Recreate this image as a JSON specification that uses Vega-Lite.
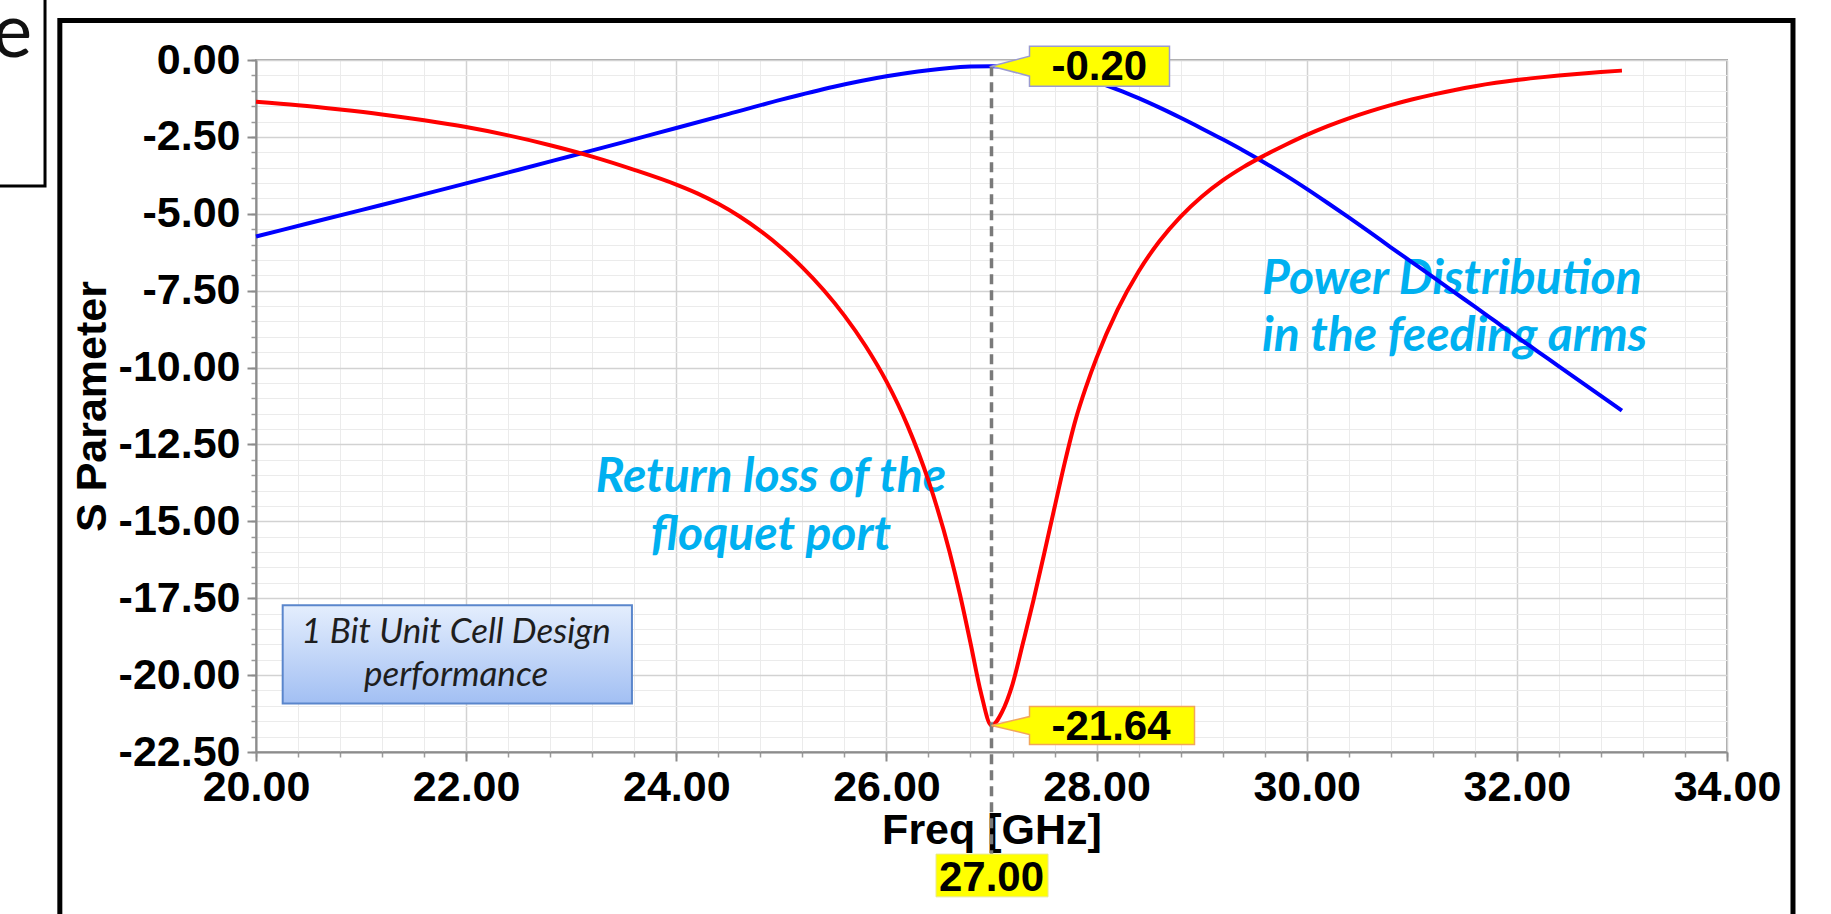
{
  "$schema": "https://vega.github.io/schema/vega-lite/v6.json",
  "width": 1471,
  "height": 692,
  "autosize": {"type": "none"},
  "padding": {"left": 256, "top": 60, "right": 104, "bottom": 162},
  "background": "white",
  "config": {
    "view": {"stroke": "#a6a6a6", "strokeWidth": 2},
    "font": "Liberation Sans"
  },
  "datasets": {
    "curves": [
      {"s": "S21", "f": 20.0, "v": -5.74}, {"s": "S21", "f": 20.5, "v": -5.31}, {"s": "S21", "f": 21.0, "v": -4.88},
      {"s": "S21", "f": 21.5, "v": -4.45}, {"s": "S21", "f": 22.0, "v": -4.01}, {"s": "S21", "f": 22.5, "v": -3.57},
      {"s": "S21", "f": 23.0, "v": -3.12}, {"s": "S21", "f": 23.5, "v": -2.67}, {"s": "S21", "f": 24.0, "v": -2.21},
      {"s": "S21", "f": 24.5, "v": -1.75}, {"s": "S21", "f": 25.0, "v": -1.29}, {"s": "S21", "f": 25.5, "v": -0.87},
      {"s": "S21", "f": 26.0, "v": -0.53}, {"s": "S21", "f": 26.2, "v": -0.42}, {"s": "S21", "f": 26.4, "v": -0.33},
      {"s": "S21", "f": 26.6, "v": -0.26}, {"s": "S21", "f": 26.8, "v": -0.215}, {"s": "S21", "f": 27.0, "v": -0.20},
      {"s": "S21", "f": 27.2, "v": -0.22}, {"s": "S21", "f": 27.4, "v": -0.28}, {"s": "S21", "f": 27.6, "v": -0.38},
      {"s": "S21", "f": 27.8, "v": -0.525}, {"s": "S21", "f": 28.0, "v": -0.72}, {"s": "S21", "f": 28.2, "v": -0.96},
      {"s": "S21", "f": 28.4, "v": -1.24}, {"s": "S21", "f": 28.6, "v": -1.55}, {"s": "S21", "f": 28.8, "v": -1.88},
      {"s": "S21", "f": 29.0, "v": -2.225}, {"s": "S21", "f": 29.2, "v": -2.58}, {"s": "S21", "f": 29.4, "v": -2.95},
      {"s": "S21", "f": 29.6, "v": -3.34}, {"s": "S21", "f": 29.8, "v": -3.75}, {"s": "S21", "f": 30.0, "v": -4.19},
      {"s": "S21", "f": 30.2, "v": -4.65}, {"s": "S21", "f": 30.4, "v": -5.12}, {"s": "S21", "f": 30.6, "v": -5.60},
      {"s": "S21", "f": 30.8, "v": -6.09}, {"s": "S21", "f": 31.0, "v": -6.57}, {"s": "S21", "f": 31.2, "v": -7.05},
      {"s": "S21", "f": 31.4, "v": -7.54}, {"s": "S21", "f": 31.6, "v": -8.02}, {"s": "S21", "f": 31.8, "v": -8.51},
      {"s": "S21", "f": 32.0, "v": -9.00}, {"s": "S21", "f": 32.2, "v": -9.48}, {"s": "S21", "f": 32.4, "v": -9.96},
      {"s": "S21", "f": 32.6, "v": -10.44}, {"s": "S21", "f": 32.8, "v": -10.92}, {"s": "S21", "f": 33.0, "v": -11.40},
      {"s": "S11", "f": 20.0, "v": -1.36}, {"s": "S11", "f": 20.4, "v": -1.47}, {"s": "S11", "f": 20.8, "v": -1.61},
      {"s": "S11", "f": 21.2, "v": -1.77}, {"s": "S11", "f": 21.6, "v": -1.96}, {"s": "S11", "f": 22.0, "v": -2.18},
      {"s": "S11", "f": 22.4, "v": -2.45}, {"s": "S11", "f": 22.8, "v": -2.77}, {"s": "S11", "f": 23.2, "v": -3.14},
      {"s": "S11", "f": 23.6, "v": -3.57}, {"s": "S11", "f": 24.0, "v": -4.05}, {"s": "S11", "f": 24.2, "v": -4.335},
      {"s": "S11", "f": 24.4, "v": -4.675}, {"s": "S11", "f": 24.6, "v": -5.08}, {"s": "S11", "f": 24.8, "v": -5.555},
      {"s": "S11", "f": 25.0, "v": -6.105}, {"s": "S11", "f": 25.2, "v": -6.74}, {"s": "S11", "f": 25.4, "v": -7.47},
      {"s": "S11", "f": 25.6, "v": -8.31}, {"s": "S11", "f": 25.8, "v": -9.29}, {"s": "S11", "f": 26.0, "v": -10.45},
      {"s": "S11", "f": 26.2, "v": -11.88}, {"s": "S11", "f": 26.4, "v": -13.68}, {"s": "S11", "f": 26.6, "v": -15.98},
      {"s": "S11", "f": 26.7, "v": -17.38}, {"s": "S11", "f": 26.8, "v": -18.955}, {"s": "S11", "f": 26.9, "v": -20.58},
      {"s": "S11", "f": 27.0, "v": -21.64}, {"s": "S11", "f": 27.1, "v": -21.2}, {"s": "S11", "f": 27.2, "v": -20.3},
      {"s": "S11", "f": 27.3, "v": -18.95}, {"s": "S11", "f": 27.4, "v": -17.56}, {"s": "S11", "f": 27.5, "v": -16.07},
      {"s": "S11", "f": 27.6, "v": -14.55}, {"s": "S11", "f": 27.7, "v": -13.05}, {"s": "S11", "f": 27.8, "v": -11.7},
      {"s": "S11", "f": 27.9, "v": -10.625}, {"s": "S11", "f": 28.0, "v": -9.685}, {"s": "S11", "f": 28.2, "v": -8.115},
      {"s": "S11", "f": 28.4, "v": -6.875}, {"s": "S11", "f": 28.6, "v": -5.885}, {"s": "S11", "f": 28.8, "v": -5.09},
      {"s": "S11", "f": 29.0, "v": -4.445}, {"s": "S11", "f": 29.2, "v": -3.915}, {"s": "S11", "f": 29.4, "v": -3.475},
      {"s": "S11", "f": 29.6, "v": -3.10}, {"s": "S11", "f": 29.8, "v": -2.755}, {"s": "S11", "f": 30.0, "v": -2.435},
      {"s": "S11", "f": 30.2, "v": -2.15}, {"s": "S11", "f": 30.4, "v": -1.895}, {"s": "S11", "f": 30.6, "v": -1.668},
      {"s": "S11", "f": 30.8, "v": -1.466}, {"s": "S11", "f": 31.0, "v": -1.286}, {"s": "S11", "f": 31.2, "v": -1.125},
      {"s": "S11", "f": 31.4, "v": -0.981}, {"s": "S11", "f": 31.6, "v": -0.853}, {"s": "S11", "f": 31.8, "v": -0.743},
      {"s": "S11", "f": 32.0, "v": -0.651}, {"s": "S11", "f": 32.2, "v": -0.573}, {"s": "S11", "f": 32.4, "v": -0.505},
      {"s": "S11", "f": 32.6, "v": -0.444}, {"s": "S11", "f": 32.8, "v": -0.389}, {"s": "S11", "f": 33.0, "v": -0.345}
    ],
    "markers": [
      {"f": 27.0, "v": -0.20, "label": "-0.20"},
      {"f": 27.0, "v": -21.64, "label": "-21.64"}
    ]
  },
  "data": {"name": "curves"},
  "layer": [
    {
      "data": {"values": [{}]},
      "mark": {"type": "rect", "fill": {"gradient": "linear", "x1": 0, "y1": 0, "x2": 0, "y2": 1, "stops": [{"offset": 0, "color": "#e4eefd"}, {"offset": 1, "color": "#a2bff3"}]}, "stroke": "#5a86cc", "strokeWidth": 2},
      "encoding": {
        "x": {"datum": 20.254, "type": "quantitative", "scale": {"domain": [20, 34], "nice": false, "zero": false},
          "axis": {"orient": "bottom", "values": [20, 20.4, 20.8, 21.2, 21.6, 22, 22.4, 22.8, 23.2, 23.6, 24, 24.4, 24.8, 25.2, 25.6, 26, 26.4, 26.8, 27.2, 27.6, 28, 28.4, 28.8, 29.2, 29.6, 30, 30.4, 30.8, 31.2, 31.6, 32, 32.4, 32.8, 33.2, 33.6, 34],
            "grid": true, "gridColor": "#ebebeb", "gridWidth": 1, "labels": false, "domain": false, "ticks": true, "tickSize": 5, "tickColor": "#9a9a9a", "tickWidth": 1.5, "title": null, "maxExtent": 0, "minExtent": 0, "zindex": 0}},
        "x2": {"datum": 23.578},
        "y": {"datum": -17.73, "type": "quantitative", "scale": {"domain": [-22.5, 0], "nice": false, "zero": false},
          "axis": {"orient": "left", "values": [0, -0.5, -1, -1.5, -2, -2.5, -3, -3.5, -4, -4.5, -5, -5.5, -6, -6.5, -7, -7.5, -8, -8.5, -9, -9.5, -10, -10.5, -11, -11.5, -12, -12.5, -13, -13.5, -14, -14.5, -15, -15.5, -16, -16.5, -17, -17.5, -18, -18.5, -19, -19.5, -20, -20.5, -21, -21.5, -22, -22.5],
            "grid": true, "gridColor": "#ebebeb", "gridWidth": 1, "labels": false, "domain": false, "ticks": true, "tickSize": 5, "tickColor": "#9a9a9a", "tickWidth": 1.5, "title": null, "maxExtent": 0, "minExtent": 0, "zindex": 0}},
        "y2": {"datum": -20.92}
      }
    },
    {
      "data": {"values": [{}]},
      "mark": {"type": "text", "text": ["1 Bit Unit Cell Design", "performance"], "font": "Lato", "fontStyle": "italic", "fontSize": 35, "color": "#1e1e1e", "align": "center", "baseline": "alphabetic", "lineHeight": 43},
      "encoding": {
        "x": {"datum": 21.904, "type": "quantitative", "axis": null},
        "y": {"datum": -18.96, "type": "quantitative", "axis": null}
      }
    },
    {
      "data": {"values": [{}]},
      "mark": {"type": "text", "text": ["Return loss of the", "floquet port"], "font": "Lato", "fontStyle": "italic", "fontWeight": "bold", "fontSize": 48, "color": "#00b0f0", "align": "center", "baseline": "alphabetic", "lineHeight": 58},
      "encoding": {
        "x": {"datum": 24.9, "type": "quantitative", "axis": null},
        "y": {"datum": -14.05, "type": "quantitative", "axis": null}
      }
    },
    {
      "data": {"values": [{}]},
      "mark": {"type": "text", "text": ["Power Distribution", "in the feeding arms"], "font": "Lato", "fontStyle": "italic", "fontWeight": "bold", "fontSize": 48, "color": "#00b0f0", "align": "left", "baseline": "alphabetic", "lineHeight": 57},
      "encoding": {
        "x": {"datum": 29.575, "type": "quantitative", "axis": null},
        "y": {"datum": -7.6, "type": "quantitative", "axis": null}
      }
    },
    {
      "transform": [{"filter": "datum.s === 'S21'"}],
      "mark": {"type": "line", "color": "#0000ff", "strokeWidth": 4, "interpolate": "monotone"},
      "encoding": {
        "x": {"field": "f", "type": "quantitative", "scale": {"domain": [20, 34], "nice": false, "zero": false},
          "axis": {"orient": "bottom", "values": [20, 22, 24, 26, 28, 30, 32, 34], "labelExpr": "replace(format(datum.value, '.2f'), '\u2212', '-')", "grid": true, "gridColor": "#d2d2d2", "gridWidth": 1.5,
            "domain": true, "domainColor": "#8c8c8c", "domainWidth": 2, "ticks": true, "tickSize": 9, "tickColor": "#8c8c8c", "tickWidth": 2,
            "labelFont": "Liberation Sans", "labelFontWeight": "bold", "labelFontSize": 43, "labelColor": "#000000", "labelPadding": 5, "labelFlush": false, "labelOverlap": false,
            "title": "Freq [GHz]", "titleFont": "Liberation Sans", "titleFontWeight": "bold", "titleFontSize": 43, "titleColor": "#000000", "titlePadding": 0, "zindex": 0}},
        "y": {"field": "v", "type": "quantitative", "scale": {"domain": [-22.5, 0], "nice": false, "zero": false},
          "axis": {"orient": "left", "values": [0, -2.5, -5, -7.5, -10, -12.5, -15, -17.5, -20, -22.5], "labelExpr": "replace(format(datum.value, '.2f'), '\u2212', '-')", "grid": true, "gridColor": "#d2d2d2", "gridWidth": 1.5,
            "domain": true, "domainColor": "#8c8c8c", "domainWidth": 2, "ticks": true, "tickSize": 9, "tickColor": "#8c8c8c", "tickWidth": 2,
            "labelFont": "Liberation Sans", "labelFontWeight": "bold", "labelFontSize": 43, "labelColor": "#000000", "labelPadding": 7, "labelFlush": false, "labelOverlap": false,
            "title": "S Parameter", "titleFont": "Liberation Sans", "titleFontWeight": "bold", "titleFontSize": 43, "titleColor": "#000000", "titlePadding": 4, "zindex": 0}}
      }
    },
    {
      "transform": [{"filter": "datum.s === 'S11'"}],
      "mark": {"type": "line", "color": "#ff0000", "strokeWidth": 4, "interpolate": "monotone"},
      "encoding": {
        "x": {"field": "f", "type": "quantitative", "axis": null},
        "y": {"field": "v", "type": "quantitative", "axis": null}
      }
    },
    {
      "data": {"values": [{}]},
      "mark": {"type": "rule", "color": "#7a7a7a", "strokeWidth": 3.5, "strokeDash": [10, 6]},
      "encoding": {
        "x": {"datum": 27.0, "type": "quantitative", "axis": null},
        "y": {"datum": -0.2, "type": "quantitative", "axis": null},
        "y2": {"datum": -25.82}
      }
    },
    {
      "data": {"name": "markers"},
      "transform": [{"filter": "datum.label === '-0.20'"}],
      "mark": {"type": "point", "filled": true, "fill": "#ffff00", "fillOpacity": 1, "stroke": "#9b9bd0", "strokeWidth": 1.5, "opacity": 1, "size": 40000,
        "shape": "M0,0 L0.38,-0.1 L0.38,-0.2 L1.78,-0.2 L1.78,0.2 L0.38,0.2 L0.38,0.1 Z"},
      "encoding": {
        "x": {"field": "f", "type": "quantitative", "axis": null},
        "y": {"field": "v", "type": "quantitative", "axis": null}
      }
    },
    {
      "data": {"name": "markers"},
      "transform": [{"filter": "datum.label === '-21.64'"}],
      "mark": {"type": "point", "filled": true, "fill": "#ffff00", "fillOpacity": 1, "stroke": "#f2a65a", "strokeWidth": 1.5, "opacity": 1, "size": 40000,
        "shape": "M0,0 L0.38,-0.09 L0.38,-0.19 L2.03,-0.19 L2.03,0.19 L0.38,0.19 L0.38,0.09 Z"},
      "encoding": {
        "x": {"field": "f", "type": "quantitative", "axis": null},
        "y": {"field": "v", "type": "quantitative", "axis": null}
      }
    },
    {
      "data": {"name": "markers"},
      "mark": {"type": "text", "font": "Liberation Sans", "fontWeight": "bold", "fontSize": 42, "color": "#000000", "align": "left", "baseline": "middle", "dx": 60, "dy": 1},
      "encoding": {
        "x": {"field": "f", "type": "quantitative", "axis": null},
        "y": {"field": "v", "type": "quantitative", "axis": null},
        "text": {"field": "label"}
      }
    },
    {
      "data": {"values": [{}]},
      "mark": {"type": "rect", "fill": "#ffff00", "stroke": "#e8e890", "strokeWidth": 1},
      "encoding": {
        "x": {"datum": 26.472, "type": "quantitative", "axis": null},
        "x2": {"datum": 27.538},
        "y": {"datum": -25.82, "type": "quantitative", "axis": null},
        "y2": {"datum": -27.21}
      }
    },
    {
      "data": {"values": [{}]},
      "mark": {"type": "text", "text": "27.00", "font": "Liberation Sans", "fontWeight": "bold", "fontSize": 42, "color": "#000000", "align": "center", "baseline": "middle", "dy": 2},
      "encoding": {
        "x": {"datum": 27.0, "type": "quantitative", "axis": null},
        "y": {"datum": -26.52, "type": "quantitative", "axis": null}
      }
    },
    {
      "data": {"values": [{}]},
      "mark": {"type": "rect", "fillOpacity": 0, "fill": "#ffffff", "stroke": "#000000", "strokeWidth": 5},
      "encoding": {
        "x": {"datum": 18.133, "type": "quantitative", "axis": null},
        "x2": {"datum": 34.628},
        "y": {"datum": 1.284, "type": "quantitative", "axis": null},
        "y2": {"datum": -28.6}
      }
    },
    {
      "data": {"values": [{}]},
      "mark": {"type": "rect", "fillOpacity": 0, "fill": "#ffffff", "stroke": "#000000", "strokeWidth": 3},
      "encoding": {
        "x": {"datum": 17.4, "type": "quantitative", "axis": null},
        "x2": {"datum": 17.992},
        "y": {"datum": 3.0, "type": "quantitative", "axis": null},
        "y2": {"datum": -4.097}
      }
    },
    {
      "data": {"values": [{}]},
      "mark": {"type": "text", "text": "e", "font": "Lato", "fontSize": 75, "color": "#111111", "align": "right", "baseline": "alphabetic"},
      "encoding": {
        "x": {"datum": 17.87, "type": "quantitative", "axis": null},
        "y": {"datum": 0.098, "type": "quantitative", "axis": null}
      }
    }
  ],
  "resolve": {"axis": {"x": "independent", "y": "independent"}}
}
